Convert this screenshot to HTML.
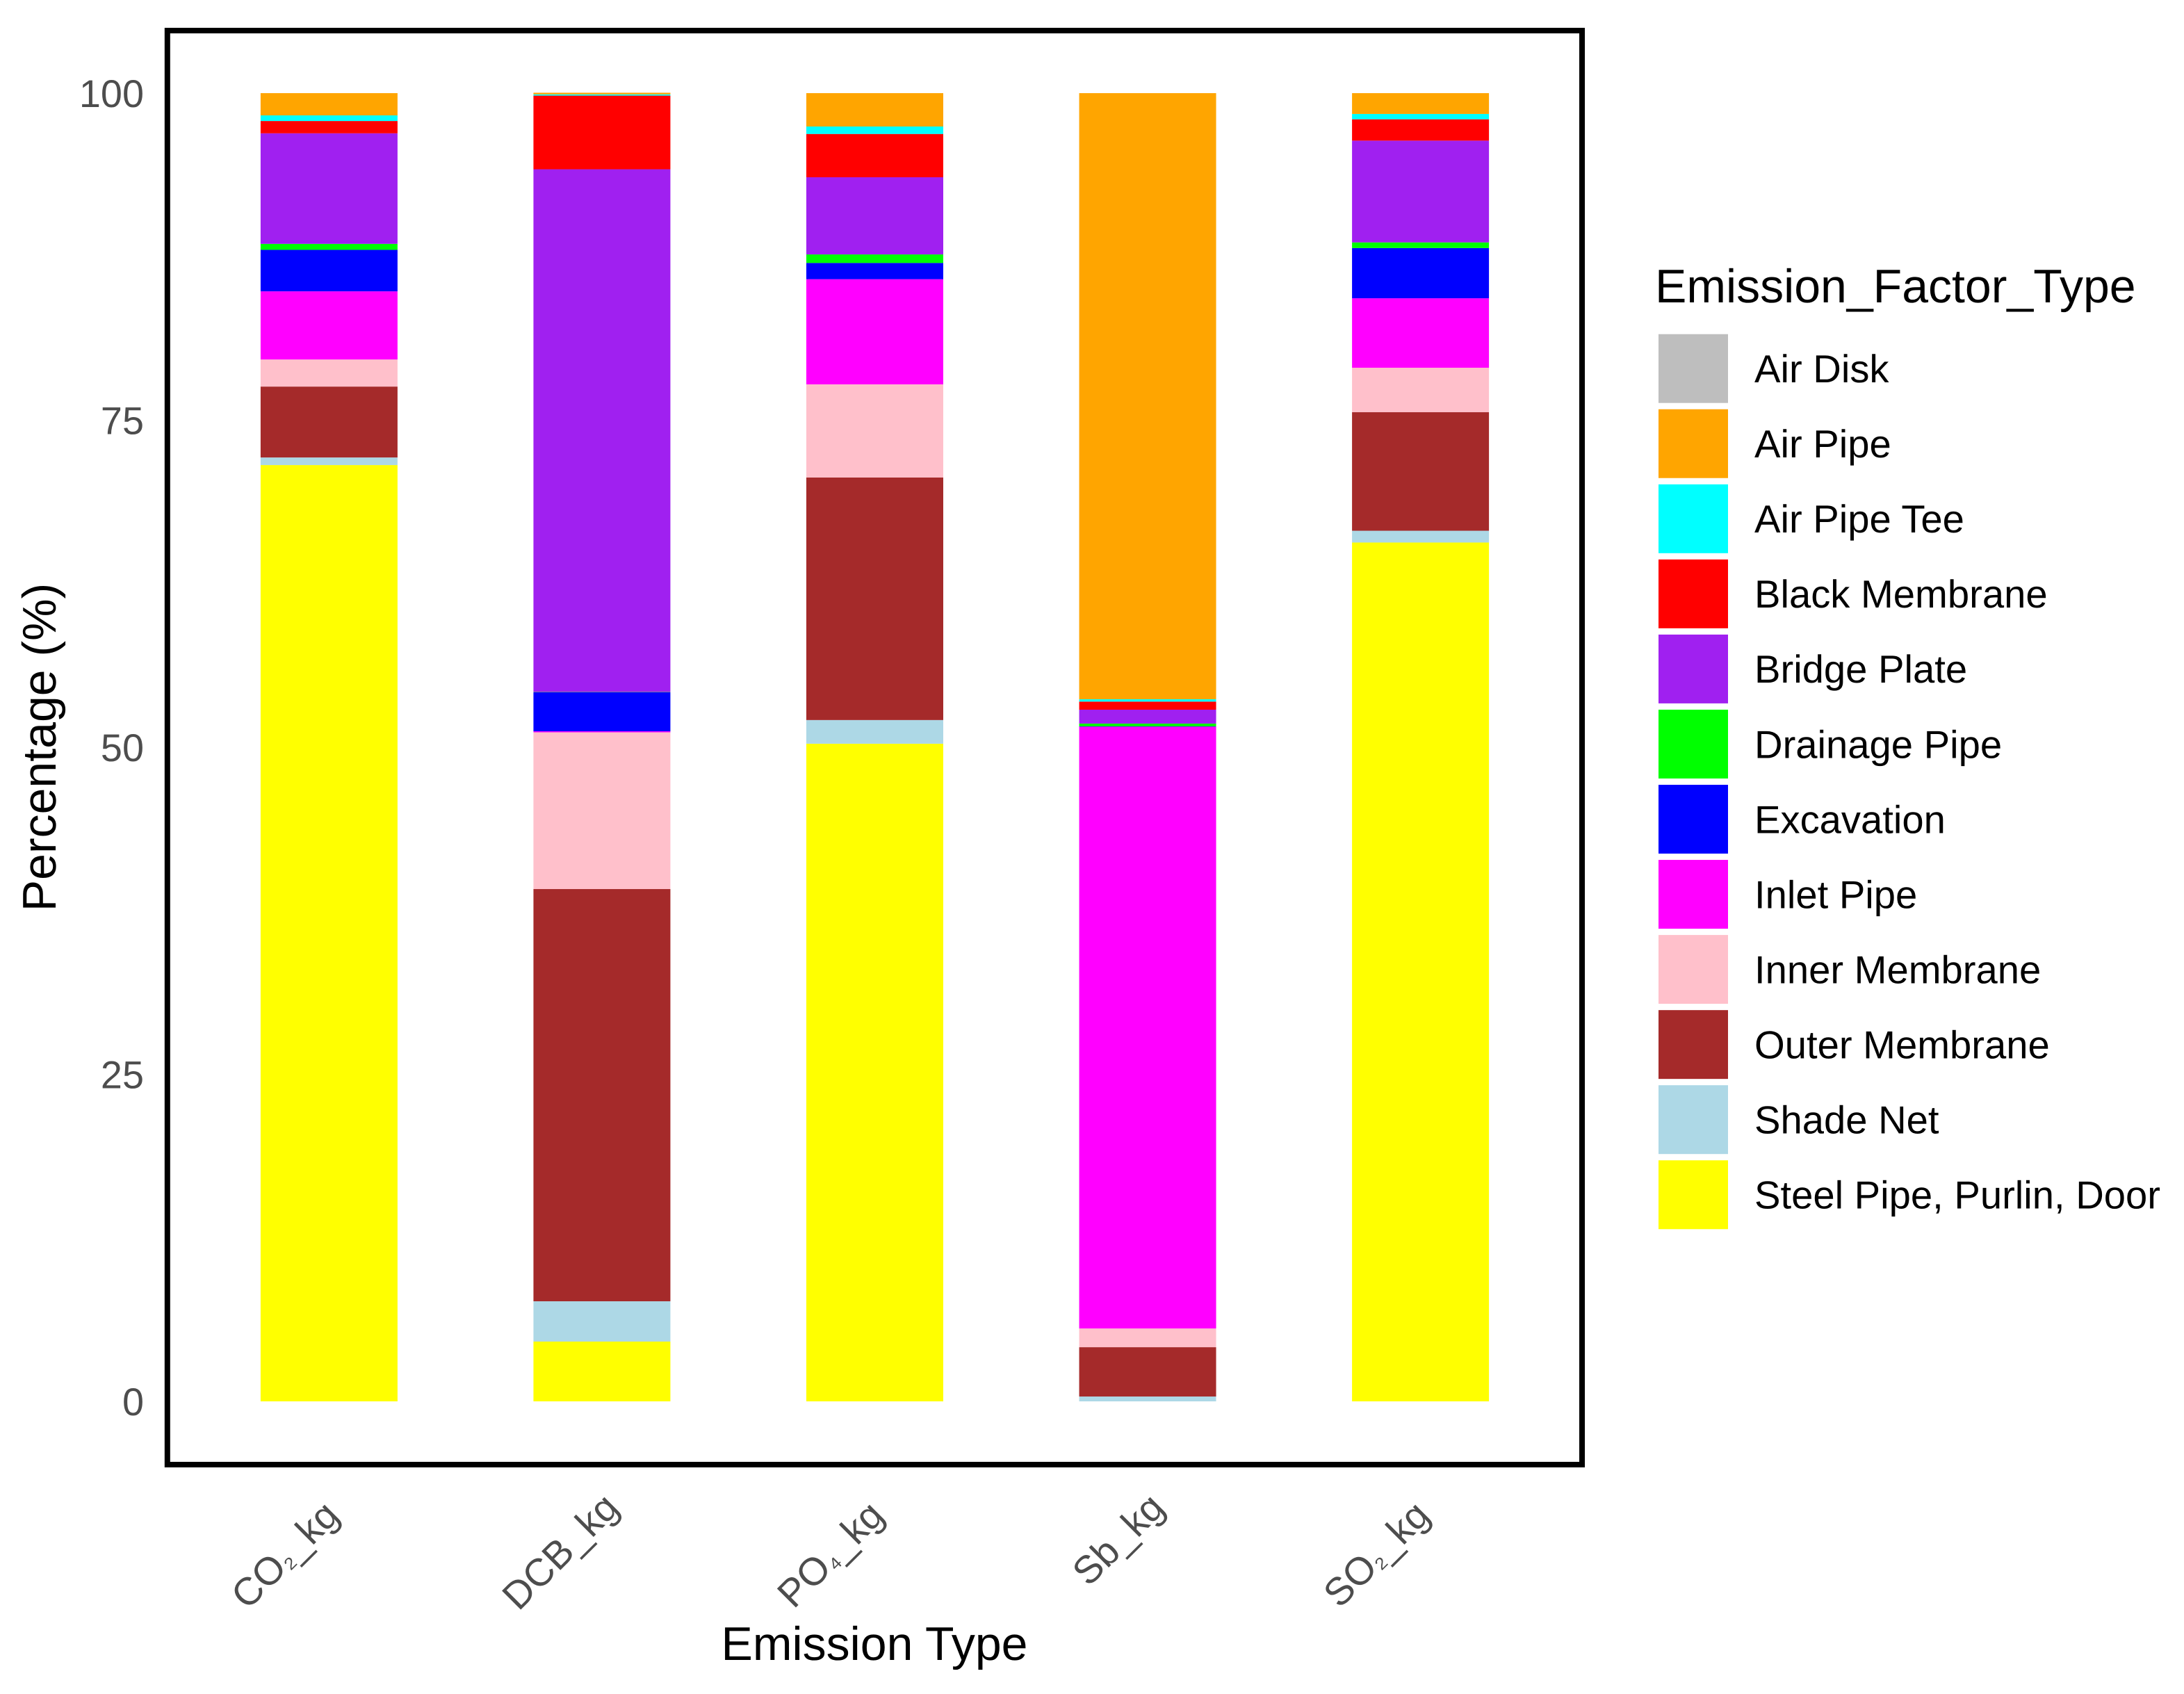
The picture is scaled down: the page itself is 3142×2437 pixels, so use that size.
<!DOCTYPE html>
<html lang="en">
<head>
<meta charset="utf-8">
<title>Emission factor stacked bar chart</title>
<style>
  html, body { margin: 0; padding: 0; background: #fff; }
  svg { display: block; font-family: "Liberation Sans", Arial, sans-serif; text-rendering: geometricPrecision; }
</style>
</head>
<body>
<svg id="chart" xmlns="http://www.w3.org/2000/svg" width="3142" height="2437" viewBox="0 0 3142 2437">
  <rect x="0" y="0" width="3142" height="2437" fill="#ffffff"></rect>
  <g id="bars"></g>
  <rect x="240.8" y="44" width="2035.2" height="2063" fill="none" stroke="#000000" stroke-width="8"></rect>
  <g id="y-ticks"></g>
  <g id="x-ticks"></g>
  <text transform="translate(80 1075) rotate(-90)" text-anchor="middle" font-size="68" fill="#000000">Percentage (%)</text>
  <text x="1258" y="2388" text-anchor="middle" font-size="68" fill="#000000">Emission Type</text>
  <g id="legend">
    <text x="2381" y="435" font-size="68" fill="#000000">Emission_Factor_Type</text>
  </g>
</svg>
<script>
// Chart data (percent of each emission type)
const categories = ["CO₂_kg", "DCB_kg", "PO₄_kg", "Sb_kg", "SO₂_kg"];
const yTickValues = [0, 25, 50, 75, 100];
const seriesNames = ["Air Disk", "Air Pipe", "Air Pipe Tee", "Black Membrane", "Bridge Plate", "Drainage Pipe", "Excavation", "Inlet Pipe", "Inner Membrane", "Outer Membrane", "Shade Net", "Steel Pipe, Purlin, Door"];
const seriesColors = ["#BEBEBE", "#FFA500", "#00FFFF", "#FF0000", "#A020F0", "#00FF00", "#0000FF", "#FF00FF", "#FFC0CB", "#A52A2A", "#ADD8E6", "#FFFF00"];
const airDisk = [0, 0, 0, 0, 0];
const airPipe = [1.70, 0.12, 2.55, 46.33, 1.59];
const airPipeTee = [0.43, 0.10, 0.57, 0.18, 0.41];
const blackMembrane = [0.94, 5.63, 3.31, 0.62, 1.63];
const bridgePlate = [8.45, 39.96, 5.90, 1.06, 7.78];
const drainagePipe = [0.46, 0.02, 0.65, 0.21, 0.43];
const excavation = [3.17, 2.98, 1.24, 0.03, 3.84];
const inletPipe = [5.21, 0.08, 8.04, 46.00, 5.31];
const innerMembrane = [2.07, 11.98, 7.12, 1.43, 3.40];
const outerMembrane = [5.42, 31.51, 18.54, 3.77, 9.06];
const shadeNet = [0.58, 3.08, 1.81, 0.37, 0.90];
const steelPipe = [71.57, 4.57, 50.27, 0, 65.65];
const seriesValues = [airDisk, airPipe, airPipeTee, blackMembrane, bridgePlate, drainagePipe, excavation, inletPipe, innerMembrane, outerMembrane, shadeNet, steelPipe];

// Layout
const SVG_NS = "http://www.w3.org/2000/svg";
const plotBottom = 2016, pxPerUnit = 18.82;
const firstCenter = 473.4, centerStep = 392.55, barWidth = 197;
const yScale = function (v) { return plotBottom - v * pxPerUnit; };
const xScale = function (i) { return firstCenter + i * centerStep; };
const labelNudgeX = [17, 27, 16, 27, 16];
const labelBaseY = [2183, 2172, 2183, 2172, 2183];

const barsGroup = document.getElementById("bars");
categories.forEach(function (cat, c) {
  let running = 0;
  for (let s = seriesValues.length - 1; s >= 0; s--) {
    const v = seriesValues[s][c];
    if (v <= 0) { continue; }
    const rect = document.createElementNS(SVG_NS, "rect");
    
    
    rect.setAttribute("x", xScale(c) - barWidth / 2);
    rect.setAttribute("y", yScale(running + v));
    rect.setAttribute("width", barWidth);
    rect.setAttribute("height", v * pxPerUnit);
    rect.setAttribute("fill", seriesColors[s]);
    barsGroup.appendChild(rect);
    running += v;
  }
});

const yGroup = document.getElementById("y-ticks");
yTickValues.forEach(function (t) {
  const label = document.createElementNS(SVG_NS, "text");
  
  
  label.setAttribute("x", 207);
  label.setAttribute("y", yScale(t) + 20);
  label.setAttribute("text-anchor", "end");
  label.setAttribute("font-size", "55.8");
  label.setAttribute("fill", "#4D4D4D");
  label.textContent = t;
  yGroup.appendChild(label);
});

const xGroup = document.getElementById("x-ticks");
categories.forEach(function (cat, c) {
  const label = document.createElementNS(SVG_NS, "text");
  
  
  const px = xScale(c) + labelNudgeX[c];
  label.setAttribute("transform", "translate(" + px + " " + labelBaseY[c] + ") rotate(-45)");
  label.setAttribute("text-anchor", "end");
  label.setAttribute("font-size", "55.8");
  label.setAttribute("fill", "#4D4D4D");
  cat.split(/([₂₄])/).forEach(function (part) {
    const span = document.createElementNS(SVG_NS, "tspan");
    if (part === "₂" || part === "₄") {
      span.setAttribute("font-size", "42");
    }
    span.textContent = part;
    label.appendChild(span);
  });
  xGroup.appendChild(label);
});

const legendGroup = document.getElementById("legend");
seriesNames.forEach(function (name, s) {
  const rowY = 480.7 + s * 108.05;
  const swatch = document.createElementNS(SVG_NS, "rect");
  
  
  swatch.setAttribute("x", 2386);
  swatch.setAttribute("y", rowY);
  swatch.setAttribute("width", 100);
  swatch.setAttribute("height", 99);
  swatch.setAttribute("fill", seriesColors[s]);
  legendGroup.appendChild(swatch);
  const text = document.createElementNS(SVG_NS, "text");
  
  
  text.setAttribute("x", 2524);
  text.setAttribute("y", rowY + 69.3);
  text.setAttribute("font-size", "56.2");
  text.setAttribute("fill", "#000000");
  text.textContent = name;
  legendGroup.appendChild(text);
});
</script>
</body>
</html>
